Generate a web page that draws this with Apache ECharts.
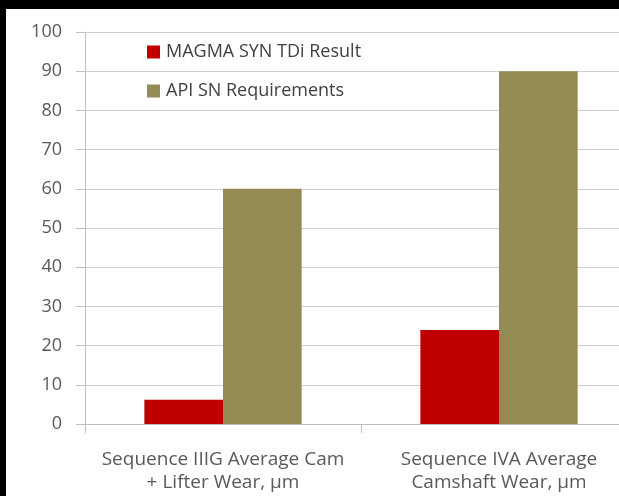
<!DOCTYPE html>
<html>
<head>
<meta charset="utf-8">
<script src="https://cdn.jsdelivr.net/npm/echarts@6/dist/echarts.min.js"></script>
<style>
  html, body { margin: 0; padding: 0; background: #000; width: 619px; height: 496px; overflow: hidden; }
  #chart { position: absolute; left: 6px; top: 9px; width: 631px; height: 487px; background: #fff; }
</style>
</head>
<body>
<div id="chart"></div>
<script>
const categories = ['Sequence IIIG Average Cam\n+ Lifter Wear, µm', 'Sequence IVA Average\nCamshaft Wear, µm'];
const seriesNames = ['MAGMA SYN TDi Result', 'API SN Requirements'];
const magmaValues = [6.2, 24];
const apiValues = [60, 90];
const yMin = 0, yMax = 100, yInterval = 10;

const chart = echarts.init(document.getElementById('chart'), null, { renderer: 'canvas' });
const font = '"Open Sans", "Liberation Sans", sans-serif';
chart.setOption({
  animation: false,
  backgroundColor: '#fff',
  grid: { left: 79, top: 23, bottom: 72, right: 0, containLabel: false },
  legend: {
    orient: 'vertical',
    left: 141,
    top: 33,
    padding: 0,
    itemWidth: 13,
    itemHeight: 13,
    itemGap: 19,
    icon: 'rect',
    textStyle: { fontFamily: font, fontSize: 18, color: '#404040', lineHeight: 20, padding: [0, 0, 0, 1] },
    data: seriesNames
  },
  xAxis: {
    type: 'category',
    data: categories,
    axisLine: { show: true, lineStyle: { color: '#BFBFBF', width: 1 } },
    axisTick: { show: true, length: 9, lineStyle: { color: '#BFBFBF' } },
    axisLabel: { fontFamily: font, fontSize: 19, color: '#595959', margin: 24, lineHeight: 23, interval: 0 },
    splitLine: { show: false }
  },
  yAxis: {
    type: 'value',
    min: yMin, max: yMax, interval: yInterval,
    axisLine: { show: true, lineStyle: { color: '#BFBFBF', width: 1 } },
    axisTick: { show: true, length: 9, lineStyle: { color: '#BFBFBF' } },
    axisLabel: { fontFamily: font, fontSize: 18, color: '#595959', margin: 23 },
    splitLine: { show: true, lineStyle: { color: '#CFCFCF', width: 1 } }
  },
  series: [
    { name: seriesNames[0], type: 'bar', data: magmaValues, barGap: '0%', barCategoryGap: '43%', itemStyle: { color: '#C00000' } },
    { name: seriesNames[1], type: 'bar', data: apiValues, barGap: '0%', barCategoryGap: '43%', itemStyle: { color: '#948A54' } }
  ]
});
</script>
</body>
</html>
